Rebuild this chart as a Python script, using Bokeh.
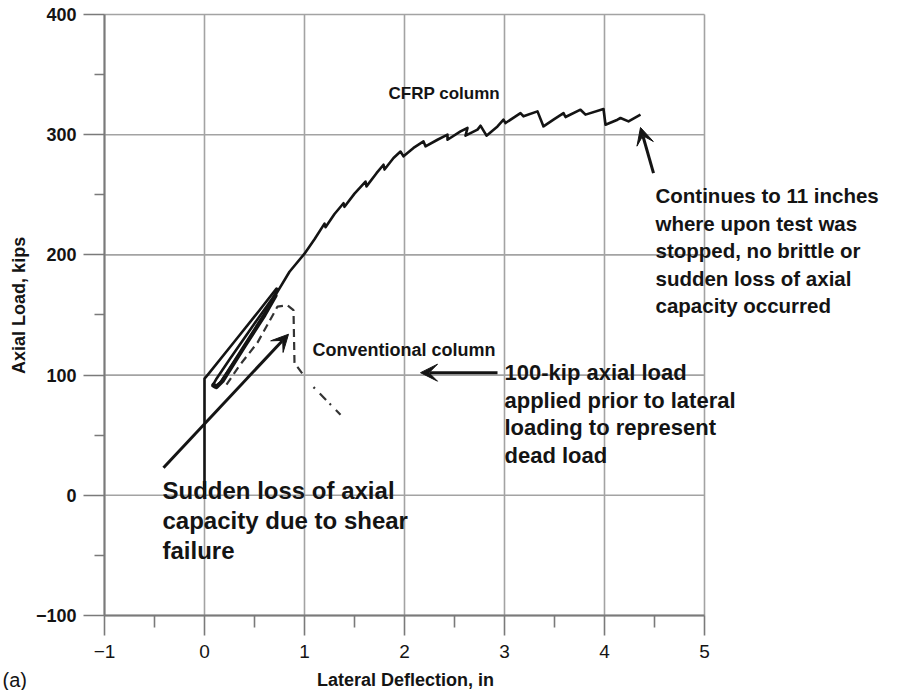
import math
from bokeh.plotting import figure
from bokeh.models import Range1d, FixedTicker, Arrow, VeeHead, ColumnDataSource
from bokeh.core.properties import value
from bokeh.embed import file_html
from bokeh.resources import INLINE

# ---- ticks ----
x_ticks = [-1, 0, 1, 2, 3, 4, 5]
x_minor = [-0.5, 0.5, 1.5, 2.5, 3.5, 4.5]
x_tick_labels = ["\u22121", "0", "1", "2", "3", "4", "5"]
y_ticks = [-100, 0, 100, 200, 300, 400]
y_minor = [-50, 50, 150, 250, 350]
y_tick_labels = ["\u2212100", "0", "100", "200", "300", "400"]

# ---- CFRP column (solid) ----
cfrp_x = [0, 0, 0.03, 0.3, 0.55, 0.72, 0.74, 0.5, 0.25, 0.12, 0.08, 0.1, 0.16, 0.4, 0.6,
          0.72, 0.85, 1.0, 1.1, 1.2, 1.21, 1.3, 1.39, 1.40, 1.5, 1.61, 1.62, 1.72, 1.79,
          1.80, 1.89, 1.96, 1.99, 2.09, 2.19, 2.21, 2.33, 2.43, 2.43, 2.56, 2.63, 2.61,
          2.73, 2.76, 2.82, 2.93, 2.99, 3.01, 3.16, 3.19, 3.33, 3.39, 3.49, 3.59, 3.61,
          3.76, 3.81, 3.99, 4.01, 4.13, 4.16, 4.24, 4.36]
cfrp_y = [0, 97, 100, 128, 154, 172, 171, 143, 113, 97, 91, 90, 94, 124, 150,
          168, 186, 201, 213, 226, 223, 234, 243, 240, 251, 261, 257, 268, 275,
          271, 280.6, 286, 282, 289, 294.4, 290.3, 295.8, 300, 295.8, 302.8, 305.6, 299.2,
          304.2, 307.5, 299.2, 306.9, 312.5, 309.7, 318, 315.3, 319.4, 306.9, 312.5, 318, 314.7,
          320.8, 316.7, 321.4, 308.3, 312.5, 313.9, 311.1, 316.7]
# thick reload branch
cfrp_loop_x = [0.09, 0.12, 0.18, 0.4, 0.6, 0.71]
cfrp_loop_y = [92, 90, 95, 124, 150, 166]

# ---- Conventional column (dashed) ----
conv_x = [0.22, 0.35, 0.53, 0.73, 0.83, 0.89, 0.90, 0.99]
conv_y = [92, 108, 127, 157, 158, 154, 110, 100]
conv_tail_x = [1.09, 1.36]
conv_tail_y = [90, 67]

# ---- arrows ----
arrow_x0 = [-0.41, 2.93, 4.49]
arrow_y0 = [23, 102, 268]
arrow_x1 = [0.84, 2.16, 4.36]
arrow_y1 = [134, 102, 306]

# ---- notes ----
note_text = ["CFRP column",
             "Conventional column",
             "100-kip axial load\napplied prior to lateral\nloading to represent\ndead load",
             "Continues to 11 inches\nwhere upon test was\nstopped, no brittle or\nsudden loss of axial\ncapacity occurred",
             "Sudden loss of axial\ncapacity due to shear\nfailure"]
note_x = [1.84, 1.08, 3.0, 4.51, -0.42]
note_y = [334, 121, 112.5, 259, 15]
note_size = ["17px", "18px", "22px", "20.5px", "24px"]
note_baseline = ["middle", "middle", "top", "top", "top"]
note_lh = [1.2, 1.2, 1.1, 1.2, 1.1]

# ---- axis titles / tag ----
x_title = "Lateral Deflection, in"
y_title = "Axial Load, kips"
panel_tag = "(a)"

FONT = "Liberation Sans, Arial, sans-serif"
GRID = "#a3a3a3"
AXIS = "#7a7a7a"
INK = "#141414"

p = figure(width=892, height=690, x_range=Range1d(-2.04, 6.88), y_range=Range1d(-162.4, 411.65),
           output_backend="svg", toolbar_location=None,
           min_border_left=0, min_border_right=0, min_border_top=0, min_border_bottom=0)
p.outline_line_color = None
p.grid.visible = False
p.background_fill_color = "white"
p.border_fill_color = "white"

# grid lines from the tick lists
p.segment(x0=x_ticks, y0=[-100] * len(x_ticks), x1=x_ticks, y1=[400] * len(x_ticks),
          line_color=GRID, line_width=1.6)
p.segment(x0=[-1] * len(y_ticks), y0=y_ticks, x1=[5] * len(y_ticks), y1=y_ticks,
          line_color=GRID, line_width=1.6)

# axes (placed inside the frame at x=-1 and y=-100)
xa = p.xaxis[0]
xa.fixed_location = -100
xa.bounds = (-1, 5)
xa.ticker = FixedTicker(ticks=x_ticks, minor_ticks=x_minor)
xa.major_label_overrides = {t: s for t, s in zip(x_ticks, x_tick_labels)}
xa.axis_line_color = AXIS
xa.axis_line_width = 2
xa.major_tick_line_color = AXIS
xa.minor_tick_line_color = AXIS
xa.major_tick_line_width = 1.6
xa.minor_tick_line_width = 1.6
xa.major_tick_out = 20
xa.major_tick_in = 0
xa.minor_tick_out = 12
xa.minor_tick_in = 0
xa.major_label_standoff = 10
xa.major_label_text_font = FONT
xa.major_label_text_font_size = "19px"
xa.major_label_text_color = INK

ya = p.yaxis[0]
ya.fixed_location = -1
ya.bounds = (-100, 400)
ya.ticker = FixedTicker(ticks=y_ticks, minor_ticks=y_minor)
ya.major_label_overrides = {t: s for t, s in zip(y_ticks, y_tick_labels)}
ya.axis_line_color = AXIS
ya.axis_line_width = 2
ya.major_tick_line_color = AXIS
ya.minor_tick_line_color = AXIS
ya.major_tick_line_width = 1.6
ya.minor_tick_line_width = 1.6
ya.major_tick_out = 21
ya.major_tick_in = 0
ya.minor_tick_out = 10
ya.minor_tick_in = 0
ya.major_label_standoff = 7
ya.major_label_text_font = FONT
ya.major_label_text_font_style = "bold"
ya.major_label_text_font_size = "18px"
ya.major_label_text_color = INK

# curves
p.line(cfrp_x, cfrp_y, line_color=INK, line_width=2.6, line_join="round")
p.line(cfrp_loop_x, cfrp_loop_y, line_color=INK, line_width=4.2, line_join="round", line_cap="round")
p.line(conv_x, conv_y, line_color="#333333", line_width=2.2, line_dash="8 5")
p.line(conv_tail_x, conv_tail_y, line_color="#333333", line_width=2.2, line_dash="2 7 9 5")

# arrows
for x0, y0, x1, y1 in zip(arrow_x0, arrow_y0, arrow_x1, arrow_y1):
    p.add_layout(Arrow(x_start=x0, y_start=y0, x_end=x1, y_end=y1,
                       line_color=INK, line_width=3,
                       end=VeeHead(size=17, fill_color=INK, line_color=INK, line_width=1)))

# notes
src = ColumnDataSource(dict(x=note_x, y=note_y, text=note_text, size=note_size,
                            base=note_baseline, lh=note_lh))
p.text(x="x", y="y", text="text", source=src, text_font=value(FONT), text_font_style="bold",
       text_font_size="size", text_baseline="base", text_align="left", text_color=INK,
       text_line_height="lh")

# axis titles and panel tag
p.text(x=[2.01], y=[-154], text=[x_title], text_align="center", text_baseline="middle",
       text_font=value(FONT), text_font_style="bold", text_font_size="18px", text_color=INK)
p.text(x=[-1.86], y=[158], text=[y_title], angle=math.pi / 2, text_align="center",
       text_baseline="middle", text_font=value(FONT), text_font_style="bold",
       text_font_size="18px", text_color=INK)
p.text(x=[-2.02], y=[-154], text=[panel_tag], text_align="left", text_baseline="middle",
       text_font=value(FONT), text_font_size="20px", text_color=INK)

open("out.html", "w").write(file_html(p, INLINE))
